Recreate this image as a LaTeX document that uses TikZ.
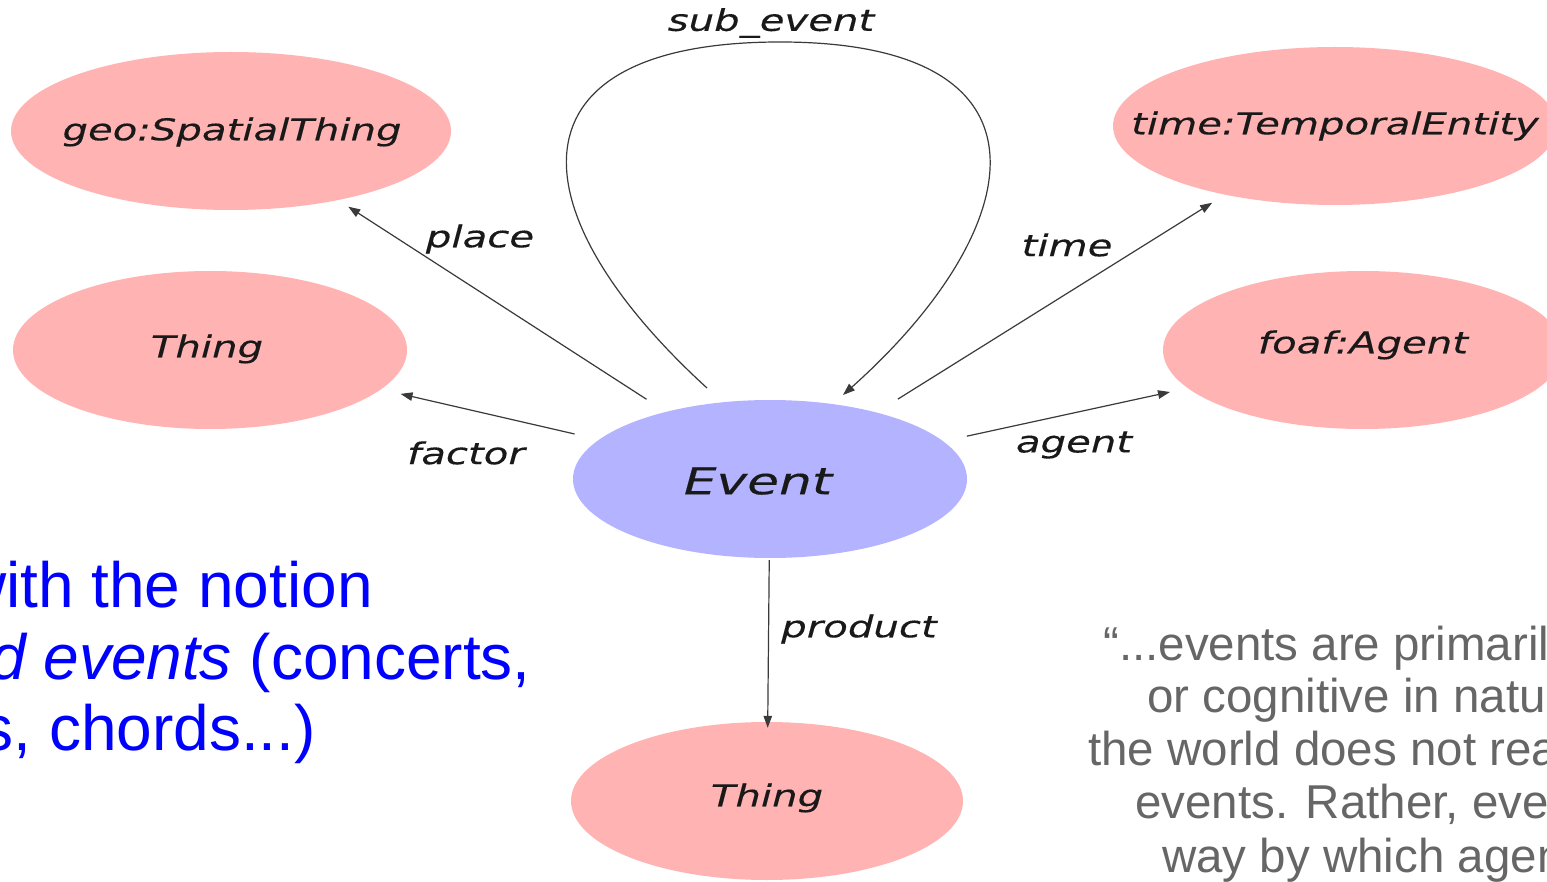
\documentclass[tikz,border=0pt]{standalone}
\usepackage{fontspec}
\setmainfont{Liberation Sans}
\newfontfamily\dvo[FakeStretch=1.34,FakeBold=0.25]{DejaVu Sans Oblique}
\newfontfamily\dvoe[FakeStretch=1.40,FakeBold=0.25]{DejaVu Sans Oblique}
\usetikzlibrary{shapes.geometric,arrows.meta}
\definecolor{pinkfill}{HTML}{FFB3B3}
\definecolor{bluefill}{HTML}{B3B3FF}
\definecolor{edgegray}{HTML}{3A3A3A}
\definecolor{quotegray}{HTML}{666666}
\definecolor{slideblue}{HTML}{0000FF}
\begin{document}
\begin{tikzpicture}[x=1pt,y=-1pt,
  cls/.style={ellipse, fill=pinkfill, inner sep=0pt, minimum height=158pt},
  evt/.style={ellipse, fill=bluefill, inner sep=0pt, minimum height=158pt},
  ntext/.style={text=black!90, inner sep=0pt, font=\dvo\fontsize{30}{36}\selectfont},
  etext/.style={text=black!90, inner sep=0pt, font=\dvoe\fontsize{37}{44}\selectfont},
  edge/.style={draw=edgegray, line width=1.2pt, -{Triangle[length=12pt,width=8.5pt]}},
  elabel/.style={text=black!90, inner sep=0pt, font=\dvo\fontsize{30}{36}\selectfont},
  bluetxt/.style={text=slideblue, inner sep=0pt, anchor=base east, font=\fontsize{64}{72}\selectfont},
  quote/.style={text=quotegray, inner sep=0pt, anchor=base west, font=\fontsize{47.5}{53}\selectfont}]
\useasboundingbox (0,0) rectangle (1547,882);
\fill[white] (0,0) rectangle (1547,882);

% ellipses
\node[cls, minimum width=440pt] (geo) at (231,131) {};
\node[cls, minimum width=394pt] (thl) at (210,350) {};
\node[cls, minimum width=444pt] (tim) at (1335,126) {};
\node[cls, minimum width=400pt] (foaf) at (1363,350) {};
\node[evt, minimum width=394pt] (ev) at (770,479) {};
\node[cls, minimum width=392pt] (thb) at (767,801) {};

% ellipse texts
\node[ntext] (geot) at (232,132) {geo:SpatialThing};
\node[ntext] (thlt) at (207,349) {Thing};
\node[ntext] (timt) at (1335,126) {time:TemporalEntity};
\node[ntext] (foaft) at (1363,345) {foaf:Agent};
\node[etext] (evt) at (758,481) {Event};
\node[ntext] (thbt) at (767,798) {Thing};

% edges
\draw[edge, shorten <=23pt, shorten >=12pt] (ev) -- (geo);
\draw[edge, shorten <=25pt, shorten >=20pt] (ev) -- (thl);
\draw[edge, shorten <=25pt, shorten >=15pt] (ev) -- (tim);
\draw[edge, shorten <=24pt, shorten >=18pt] (ev) -- (foaf);
\draw[edge, shorten <=2pt, shorten >=-6pt] (ev) -- (thb);

% self loop
\coordinate (ls) at (707,388);
\coordinate (lt) at (780,42);
\coordinate (le) at (843,395);
\draw[edge] (ls) .. controls (512,210) and (505,42) .. (lt)
  .. controls (1068,42) and (1028,230) .. (le);

% edge labels
\node[elabel] (lsub) at (771,23) {sub\_event};
\node[elabel] (lplace) at (480,239) {place};
\node[elabel] (ltime) at (1067,245) {time};
\node[elabel] (lfactor) at (466,453) {factor};
\node[elabel] (lagent) at (1074,445) {agent};
\node[elabel] (lprod) at (859,629) {product};

% slide text, left (blue)
\node[bluetxt] (b1) at (373,607) {with the notion};
\node[bluetxt] (b2) at (531,679) {\textit{d events} (concerts,};
\node[bluetxt] (b3) at (316,750) {s, chords...)};

% slide text, right (grey quote)
\node[quote] (q1) at (1103,660) {“...events are primaril};
\node[quote] (q2) at (1147,712) {or cognitive in natu};
\node[quote] (q3) at (1088,765) {the world does not rea};
\node[quote] (q4) at (1135,818) {events. Rather, eve};
\node[quote] (q5) at (1162,872) {way by which agen};
\end{tikzpicture}
\end{document}
